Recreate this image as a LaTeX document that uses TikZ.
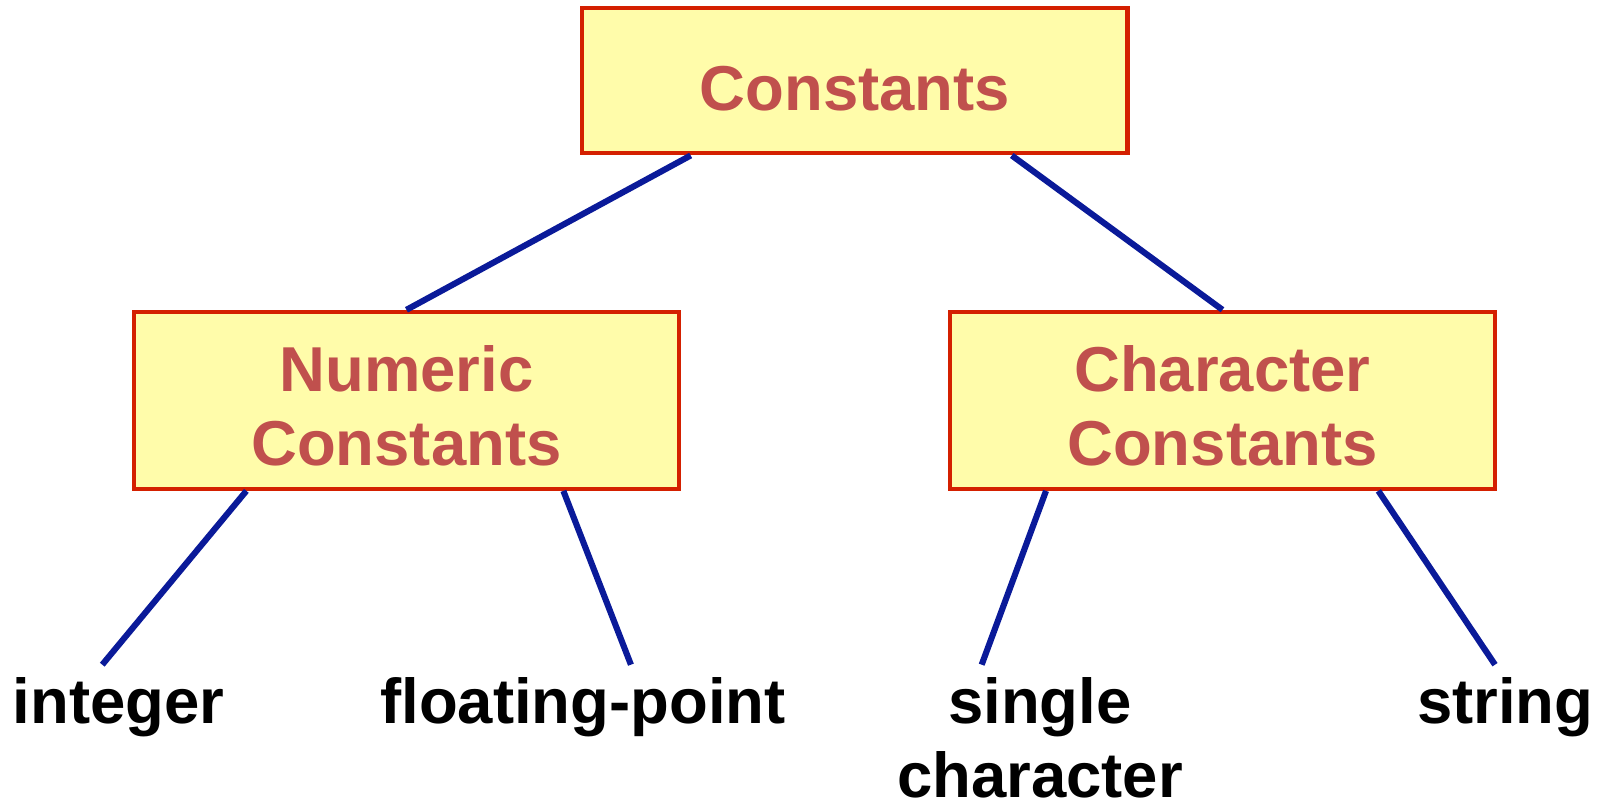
\documentclass[tikz,border=0pt]{standalone}
\usepackage{fontspec}
\setmainfont{Liberation Sans}
\usetikzlibrary{calc}
\definecolor{boxfill}{HTML}{FFFCAA}
\definecolor{boxline}{HTML}{D42000}
\definecolor{boxtext}{HTML}{C0504D}
\definecolor{conn}{HTML}{0A1A99}
\begin{document}
\begin{tikzpicture}[x=0.02045cm,y=-0.02045cm,
  catbox/.style={draw=boxline,fill=boxfill,line width=2.35pt,rectangle,
    minimum width=10.9cm,inner sep=0pt},
  cattext/.style={inner sep=0pt,align=center,text=boxtext,anchor=base,
    font=\fontsize{36.1}{42}\selectfont\bfseries},
  leaf/.style={inner sep=0pt,align=center,text=black,anchor=base,
    font=\fontsize{36.1}{42}\selectfont\bfseries},
  conn/.style={draw=conn,line width=3.48pt}]
\useasboundingbox (0,0) rectangle (1568.6,784.3);
\node[catbox,minimum height=2.904cm] (top) at (836,79) {};
\node[catbox,minimum height=3.538cm] (num) at (397.5,391.5) {};
\node[catbox,minimum height=3.538cm] (chr) at (1195.5,391.5) {};
\node[cattext] (topt) at (836,108) {Constants};
\node[cattext] (numt) at (397.5,455) {Numeric\\Constants};
\node[cattext] (chrt) at (1195.5,455) {Character\\Constants};
\node[leaf] (int) at (116,708) {integer};
\node[leaf] (flt) at (570,708) {floating-point};
\node[leaf] (sgl) at (1017,780) {single\\character};
\node[leaf] (str) at (1472,708) {string};
\coordinate (eint) at (100,650);
\coordinate (eflt) at (617,650);
\coordinate (esgl) at (960,650);
\coordinate (estr) at (1462,650);
\draw[conn] ($(top.south west)+(108,0)$) -- (num.north);
\draw[conn] ($(top.south west)+(422,0)$) -- (chr.north);
\draw[conn] ($(num.south west)+(112,0)$) -- (eint);
\draw[conn] ($(num.south west)+(422,0)$) -- (eflt);
\draw[conn] ($(chr.south west)+(96,0)$) -- (esgl);
\draw[conn] ($(chr.south west)+(421,0)$) -- (estr);
\end{tikzpicture}
\end{document}
